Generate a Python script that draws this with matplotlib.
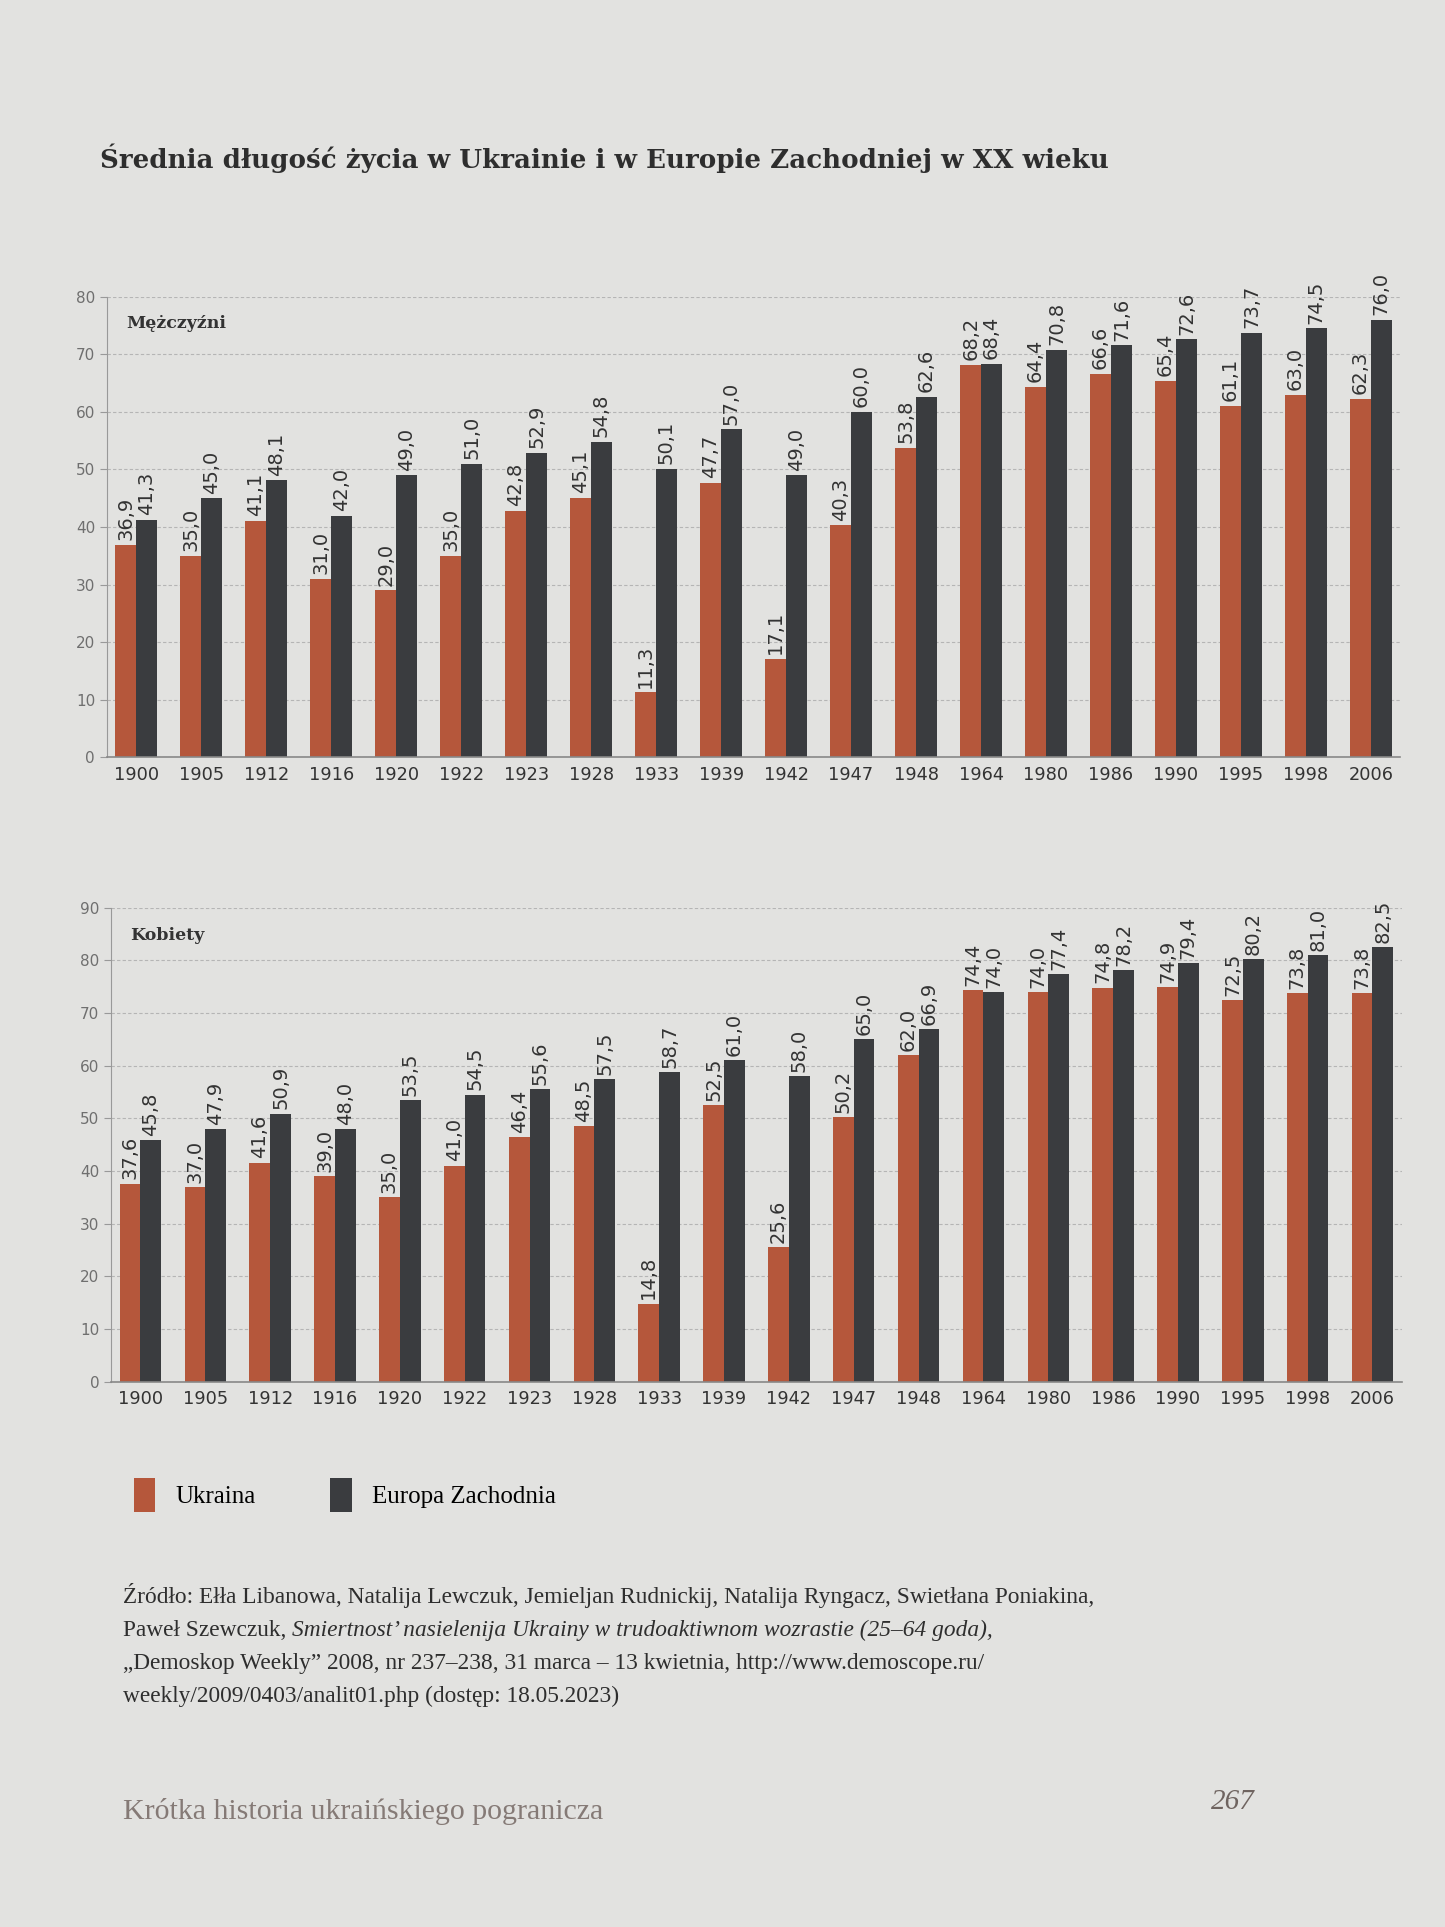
import numpy as np
import matplotlib.pyplot as plt
from matplotlib.patches import Patch

# --- data -------------------------------------------------------------------
YEARS = ['1900', '1905', '1912', '1916', '1920', '1922', '1923', '1928', '1933', '1939',
         '1942', '1947', '1948', '1964', '1980', '1986', '1990', '1995', '1998', '2006']
MEN_UA = [36.9, 35.0, 41.1, 31.0, 29.0, 35.0, 42.8, 45.1, 11.3, 47.7,
          17.1, 40.3, 53.8, 68.2, 64.4, 66.6, 65.4, 61.1, 63.0, 62.3]
MEN_EU = [41.3, 45.0, 48.1, 42.0, 49.0, 51.0, 52.9, 54.8, 50.1, 57.0,
          49.0, 60.0, 62.6, 68.4, 70.8, 71.6, 72.6, 73.7, 74.5, 76.0]
WOMEN_UA = [37.6, 37.0, 41.6, 39.0, 35.0, 41.0, 46.4, 48.5, 14.8, 52.5,
            25.6, 50.2, 62.0, 74.4, 74.0, 74.8, 74.9, 72.5, 73.8, 73.8]
WOMEN_EU = [45.8, 47.9, 50.9, 48.0, 53.5, 54.5, 55.6, 57.5, 58.7, 61.0,
            58.0, 65.0, 66.9, 74.0, 77.4, 78.2, 79.4, 80.2, 81.0, 82.5]
SERIES = ['Ukraina', 'Europa Zachodnia']

TITLE = 'Średnia długość życia w Ukrainie i w Europie Zachodniej w XX wieku'

PAGE = '#e2e2e0'
UA_C = '#b5573b'
EU_C = '#3a3c3f'
GREY = '#6f6f6f'
SERIF = ['DejaVu Serif']
BODY = ['Liberation Serif', 'DejaVu Serif']


def fmt(v):
    return f"{v:.1f}".replace('.', ',')


def panel(ax, ua, eu, ymax, label):
    x = np.arange(len(YEARS))
    w = 0.32
    ax.bar(x - w/2, ua, w, color=UA_C, zorder=2)
    ax.bar(x + w/2, eu, w, color=EU_C, zorder=2)
    for xi, a, b in zip(x, ua, eu):
        ax.text(xi - w/2, a + 0.8, fmt(a), rotation=90, ha='center', va='bottom',
                fontsize=14, color='#333333', clip_on=False)
        ax.text(xi + w/2, b + 0.8, fmt(b), rotation=90, ha='center', va='bottom',
                fontsize=14, color='#333333', clip_on=False)
    ax.set_xlim(-0.45, len(YEARS) - 0.55)
    ax.set_ylim(0, ymax)
    ax.set_yticks(range(0, ymax + 1, 10))
    ax.set_xticks(x)
    ax.set_xticklabels(YEARS, fontsize=12.8, color='#333333')
    ax.tick_params(axis='x', length=0, pad=6)
    ax.tick_params(axis='y', labelsize=11, labelcolor=GREY, color='#999999', length=5)
    ax.set_facecolor('none')
    for s in ('top', 'right'):
        ax.spines[s].set_visible(False)
    ax.spines['left'].set_color('#999999')
    ax.spines['bottom'].set_color('#888888')
    ax.spines['bottom'].set_linewidth(1.2)
    ax.yaxis.grid(True, ls=(0, (3, 2)), lw=0.8, color='#b5b5b5', zorder=0)
    ax.set_axisbelow(True)
    ax.text(0.015, 0.96, label, transform=ax.transAxes, ha='left', va='top',
            fontsize=12.5, fontweight='bold', family=SERIF, color='#333333')


fig = plt.figure(figsize=(14.45, 19.27), dpi=100, facecolor=PAGE)

fig.text(0.069, 0.918, TITLE, fontsize=18.8, fontweight='bold', family=SERIF,
         color='#2e2e2e', ha='left', va='center')

ax1 = fig.add_axes([0.074, 0.607, 0.895, 0.239])
panel(ax1, MEN_UA, MEN_EU, 80, 'Mężczyźni')

ax2 = fig.add_axes([0.077, 0.283, 0.893, 0.246])
panel(ax2, WOMEN_UA, WOMEN_EU, 90, 'Kobiety')

# legend
handles = [Patch(facecolor=UA_C), Patch(facecolor=EU_C)]
fig.legend(handles, SERIES, loc='center left', bbox_to_anchor=(0.077, 0.224), ncol=2,
           frameon=False, handlelength=0.85, handleheight=1.7, columnspacing=3.0,
           handletextpad=0.8, prop={'family': BODY, 'size': 18})

# source note (second line mixes regular and italic)
fs = 16.8
ys = [0.168, 0.151, 0.134, 0.117]
x0 = 0.085
col = '#2e2e2e'
fig.text(x0, ys[0], 'Źródło: Ełła Libanowa, Natalija Lewczuk, Jemieljan Rudnickij, '
         'Natalija Ryngacz, Swietłana Poniakina,', fontsize=fs, family=BODY, color=col)
t = fig.text(x0, ys[1], 'Paweł Szewczuk, ', fontsize=fs, family=BODY, color=col)
r = fig.canvas.get_renderer()
bb = t.get_window_extent(renderer=r)
fig.text(bb.x1 / fig.bbox.width, ys[1],
         'Smiertnost\u2019 nasielenija Ukrainy w trudoaktiwnom wozrastie (25–64 goda),',
         fontsize=fs, family=BODY, style='italic', color=col)
fig.text(x0, ys[2], '\u201eDemoskop Weekly\u201d 2008, nr 237–238, 31 marca – 13 kwietnia, '
         'http://www.demoscope.ru/', fontsize=fs, family=BODY, color=col)
fig.text(x0, ys[3], 'weekly/2009/0403/analit01.php (dostęp: 18.05.2023)',
         fontsize=fs, family=BODY, color=col)

# page footer
fig.text(0.085, 0.056, 'Krótka historia ukraińskiego pogranicza', fontsize=21.5,
         family=BODY, color='#857a76')
fig.text(0.838, 0.061, '267', fontsize=21, family=BODY, style='italic', color='#6f6460')

fig.savefig('out.png', dpi=100, facecolor=PAGE)
